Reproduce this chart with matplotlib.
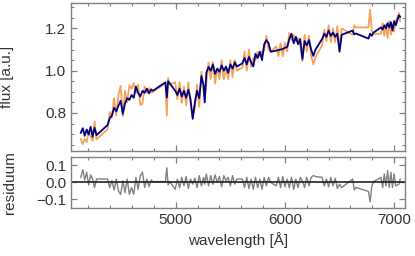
import numpy as np
import matplotlib
matplotlib.use("Agg")
import matplotlib.pyplot as plt
from matplotlib.ticker import MultipleLocator

plt.rcParams['font.family'] = ['Liberation Sans Narrow', 'Liberation Sans', 'DejaVu Sans']
plt.rcParams['mathtext.fontset'] = 'dejavusans'

# wavelength grid [A]; gaps between segments are masked pixels (drawn as straight lines)
wave = [4130, 4148, 4166, 4184, 4202, 4220, 4238, 4256, 4274,
        4375, 4395, 4415, 4435, 4455, 4475, 4495, 4515, 4535, 4555, 4575,
        4595, 4615, 4635, 4655, 4675, 4695, 4715, 4735, 4755, 4775, 4790,
        4905, 4918, 4930, 4945,
        4995, 5015, 5035, 5055, 5075, 5095, 5115, 5135, 5155, 5175, 5195,
        5215, 5235, 5255, 5265, 5280, 5300, 5320, 5340, 5360, 5380, 5400,
        5420, 5440, 5460, 5480, 5500, 5520, 5540, 5560,
        5610, 5630, 5650, 5670, 5690, 5710, 5730, 5750, 5770, 5790, 5810,
        5830, 5850, 5870,
        5920, 5940, 5960, 5980, 6000, 6020, 6040, 6060, 6080, 6100, 6120,
        6140, 6160, 6180, 6200, 6220, 6240, 6260, 6280,
        6340, 6360, 6380, 6400, 6420, 6440, 6460, 6480, 6500, 6520,
        6620, 6635, 6650,
        6765, 6780, 6795, 6810,
        6880, 6895, 6910, 6925, 6940, 6955, 6970, 6985, 7000, 7015, 7030,
        7045, 7055]

flux_model = [0.706, 0.728, 0.692, 0.722, 0.698, 0.735, 0.688, 0.730, 0.695,
              0.743, 0.775, 0.788, 0.825, 0.808, 0.835, 0.858, 0.795, 0.845, 0.870, 0.862,
              0.885, 0.872, 0.925, 0.895, 0.878, 0.905, 0.895, 0.915, 0.893, 0.912, 0.905,
              0.945, 0.873, 0.950, 0.940,
              0.905, 0.885, 0.915, 0.878, 0.905, 0.872, 0.910, 0.865, 0.772, 0.850, 0.905,
              0.870, 0.975, 0.930, 0.850, 0.990, 1.018, 1.000, 1.030, 0.985, 1.010, 0.995,
              1.025, 1.000, 1.020, 0.990, 1.030, 1.010, 1.040, 1.020,
              1.035, 1.060, 1.030, 1.065, 1.040, 1.020, 1.080, 1.060, 1.090, 1.050, 1.125,
              1.145, 1.130, 1.090,
              1.095, 1.098, 1.100, 1.103, 1.108, 1.112, 1.150, 1.175, 1.130, 1.160, 1.125,
              1.150, 1.055, 1.140, 1.120, 1.145, 1.100, 1.070, 1.100,
              1.150, 1.175, 1.160, 1.190, 1.165, 1.180, 1.160, 1.175, 1.090, 1.170,
              1.190, 1.172, 1.176,
              1.152, 1.175, 1.165, 1.180,
              1.205, 1.195, 1.215, 1.200, 1.225, 1.205, 1.230, 1.190, 1.235, 1.215, 1.240,
              1.262, 1.255]

flux_obs = [0.676, 0.653, 0.677, 0.662, 0.713, 0.690, 0.668, 0.760, 0.675,
            0.723, 0.805, 0.778, 0.870, 0.788, 0.885, 0.928, 0.785, 0.905, 0.850, 0.932,
            0.915, 0.942, 0.895, 0.935, 0.838, 0.845, 0.925, 0.895, 0.918, 0.897, 0.900,
            0.940, 0.787, 0.965, 0.935,
            0.945, 0.865, 0.945, 0.848, 0.925, 0.837, 0.945, 0.845, 0.782, 0.825, 0.935,
            0.830, 0.995, 0.900, 0.860, 0.940, 1.038, 0.960, 1.040, 0.940, 1.010, 0.960,
            1.050, 0.960, 1.010, 0.960, 1.050, 0.970, 1.050, 1.000,
            1.015, 1.090, 1.000, 1.100, 1.020, 1.060, 1.050, 1.090, 1.070, 1.090, 1.095,
            1.165, 1.100, 1.090,
            1.115, 1.068, 1.130, 1.068, 1.133, 1.092, 1.180, 1.145, 1.170, 1.140, 1.155,
            1.120, 1.045, 1.170, 1.090, 1.165, 1.070, 1.030, 1.065,
            1.120, 1.195, 1.140, 1.215, 1.135, 1.200, 1.135, 1.210, 1.100, 1.200,
            1.170, 1.215, 1.205,
            1.205, 1.289, 1.190, 1.175,
            1.175, 1.225, 1.165, 1.220, 1.155, 1.235, 1.170, 1.220, 1.185, 1.235, 1.255,
            1.272, 1.235]

wave = np.array(wave)
flux_model = np.array(flux_model)
flux_obs = np.array(flux_obs)
residuum = flux_model - flux_obs

fig = plt.figure(figsize=(4.15, 2.56), dpi=100)
ax = fig.add_axes([0.171, 0.410, 0.805, 0.578])
axr = fig.add_axes([0.171, 0.1875, 0.805, 0.1995], sharex=ax)

ax.plot(wave, flux_obs, color='#f5a25a', lw=1.3)
ax.plot(wave, flux_model, color='#000080', lw=1.3)
axr.plot(wave, residuum, color='#808080', lw=1.0)
axr.axhline(0, color='#222222', lw=1.2)

ax.set_xlim(4040, 7100)
ax.set_ylim(0.62, 1.32)
axr.set_ylim(-0.15, 0.15)

ax.yaxis.set_major_locator(MultipleLocator(0.2))
ax.yaxis.set_minor_locator(MultipleLocator(0.05))
axr.yaxis.set_major_locator(MultipleLocator(0.1))
axr.xaxis.set_major_locator(MultipleLocator(1000))
axr.xaxis.set_minor_locator(MultipleLocator(200))

for a in (ax, axr):
    for s in a.spines.values():
        s.set_color('#808080')
        s.set_linewidth(1.0)
    a.tick_params(which='both', direction='in', top=True, right=True,
                  color='#808080', labelcolor='#333333', labelsize=11)
    a.tick_params(which='major', length=4, width=0.9)
    a.tick_params(which='minor', length=2.5, width=0.8)

ax.tick_params(labelbottom=False)
axr.set_yticks([-0.1, 0.0, 0.1])
axr.set_yticklabels(['\u22120.1', '0.0', '0.1'])

ax.set_ylabel('flux [a.u.]', fontsize=11, color='#333333')
axr.set_ylabel('residuum', fontsize=11, color='#333333')
axr.set_xlabel('wavelength [\u00c5]', fontsize=11, color='#333333')
ax.yaxis.set_label_coords(-0.172, 0.5)
axr.yaxis.set_label_coords(-0.163, 0.5)

fig.savefig('out.png', dpi=100)
